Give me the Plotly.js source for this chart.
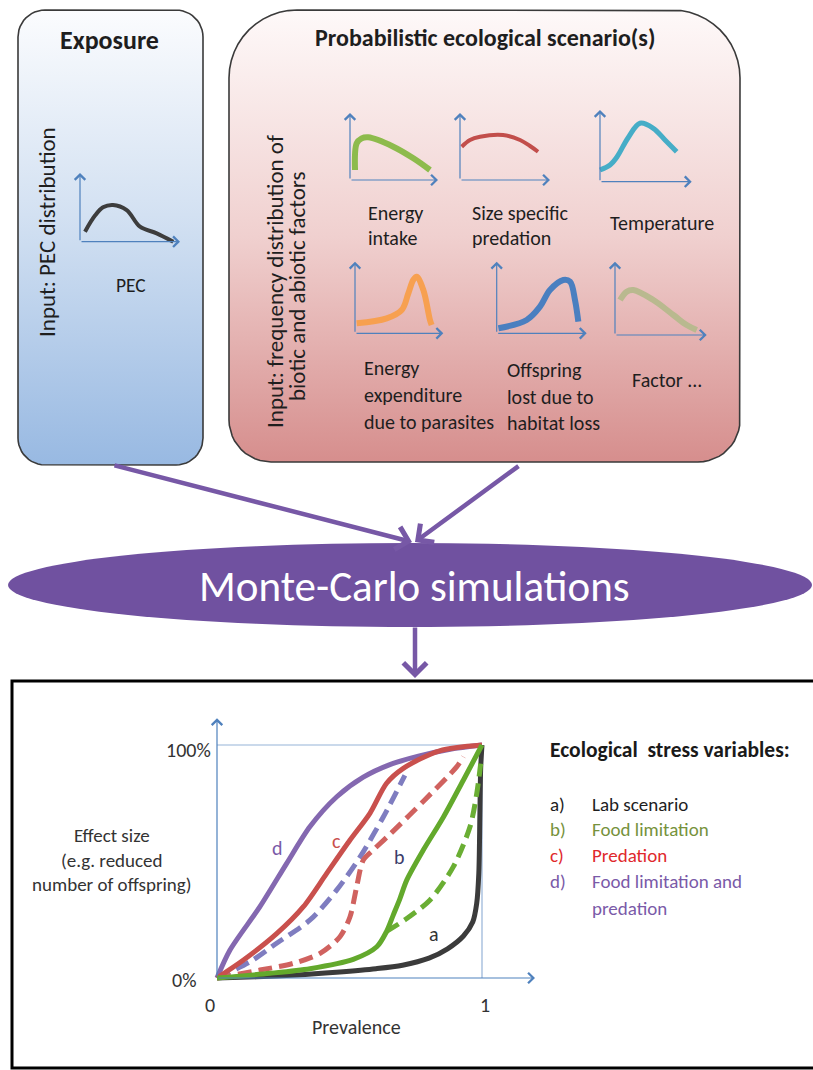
<!DOCTYPE html>
<html><head><meta charset="utf-8">
<script src="https://cdn.plot.ly/plotly-3.0.1.min.js"></script>
<style>html,body{margin:0;padding:0;background:#fff;}#chart{width:813px;height:1070px;}</style>
</head><body><div id="chart"></div>
<script>
// ================= DATA =================
// Main chart: effect size vs prevalence (values 0..1)
const prevA  = [0, 0.15, 0.3, 0.45, 0.6, 0.7, 0.8, 0.87, 0.93, 0.965, 0.98, 0.988, 0.992, 0.995, 1];
const effA   = [0, 0.005, 0.013, 0.025, 0.04, 0.055, 0.085, 0.125, 0.18, 0.24, 0.32, 0.45, 0.7, 0.9, 1];
const prevB  = [0, 0.2, 0.351, 0.514, 0.603, 0.64, 0.665, 0.69, 0.716, 0.779, 0.854, 0.93, 1];
const effB   = [0, 0.02, 0.04, 0.08, 0.134, 0.2, 0.27, 0.34, 0.42, 0.55, 0.69, 0.85, 1];
const prevBd = [0.64, 0.716, 0.804, 0.892, 0.955, 0.98, 0.995];
const effBd  = [0.2, 0.255, 0.335, 0.478, 0.65, 0.79, 0.92];
const prevC  = [0, 0.1, 0.225, 0.326, 0.414, 0.502, 0.577, 0.64, 0.703, 0.84, 1];
const effC   = [0, 0.077, 0.19, 0.306, 0.449, 0.592, 0.707, 0.836, 0.9, 0.975, 1];
const prevCd = [0, 0.162, 0.288, 0.389, 0.464, 0.502, 0.527, 0.552, 0.59, 0.66, 0.78, 0.905, 0.93];
const effCd  = [0, 0.034, 0.063, 0.106, 0.177, 0.263, 0.392, 0.506, 0.55, 0.625, 0.76, 0.907, 0.95];
const prevD  = [0, 0.049, 0.162, 0.263, 0.351, 0.452, 0.552, 0.65, 0.76, 0.88, 1];
const effD   = [0, 0.12, 0.306, 0.492, 0.65, 0.778, 0.862, 0.915, 0.952, 0.982, 1];
const prevDd = [0, 0.125, 0.225, 0.351, 0.452, 0.54, 0.628, 0.709];
const effDd  = [0, 0.07, 0.149, 0.249, 0.378, 0.52, 0.692, 0.87];

const xTickVals = [0, 1];
const xTickText = ['0', '1'];
const yTickVals = [0, 1];
const yTickText = ['0%', '100%'];
const curveLabels = ['a', 'b', 'c', 'd'];
const curveLabelX = [0.82, 0.69, 0.45, 0.23];
const curveLabelY = [0.19, 0.52, 0.59, 0.56];
const legendKeys  = ['a)', 'b)', 'c)', 'd)'];
const legendTexts = ['Lab scenario', 'Food limitation', 'Predation', 'Food limitation and<br>predation'];

// Mini distribution sketches (normalised 0..1)
const pecX  = [0.05, 0.15, 0.23, 0.33, 0.467, 0.6, 0.767, 0.933];
const pecY  = [0.146, 0.38, 0.5, 0.535, 0.46, 0.218, 0.122, 0.0];
const intakeX = [0.057, 0.076, 0.133, 0.208, 0.492, 0.72, 0.909];
const intakeY = [0.149, 0.547, 0.622, 0.637, 0.497, 0.324, 0.149];
const predX = [0.019, 0.111, 0.222, 0.478, 0.667, 0.778, 0.867];
const predY = [0.497, 0.597, 0.646, 0.672, 0.597, 0.507, 0.422];
const tempX = [0, 0.109, 0.185, 0.305, 0.436, 0.581, 0.709, 0.836];
const tempY = [0.163, 0.233, 0.345, 0.61, 0.815, 0.745, 0.582, 0.418];
const paraX = [0.019, 0.359, 0.529, 0.604, 0.66, 0.698, 0.774, 0.849, 0.868];
const paraY = [0.14, 0.209, 0.325, 0.558, 0.745, 0.791, 0.605, 0.186, 0.116];
const offX  = [0.019, 0.333, 0.481, 0.592, 0.74, 0.815, 0.87, 0.907];
const offY  = [0.07, 0.186, 0.372, 0.605, 0.745, 0.721, 0.465, 0.162];
const facX  = [0.055, 0.127, 0.2, 0.418, 0.636, 0.782, 0.891];
const facY  = [0.477, 0.591, 0.614, 0.477, 0.273, 0.136, 0.068];

// ================= LAYOUT HELPERS =================
const W = 813, H = 1070;
const FONT = 'Calibri, Carlito, Lato, sans-serif';
const traces = [], shapes = [], annotations = [];
const layout = {
  width: W, height: H, margin: {l: 0, r: 0, t: 0, b: 0},
  paper_bgcolor: '#ffffff', plot_bgcolor: 'rgba(0,0,0,0)', showlegend: false,
  font: {family: FONT, color: '#1e1e1e'},
  xaxis: {domain: [0, 1], range: [0, W], visible: false, fixedrange: true},
  yaxis: {domain: [0, 1], range: [H, 0], visible: false, fixedrange: true}
};
let axisCount = 1;
function addAxes(x0, x1, yTop, yBot, xr, yr) {
  axisCount++;
  const n = axisCount;
  layout['xaxis' + n] = {domain: [x0 / W, x1 / W], range: xr, visible: false, fixedrange: true, anchor: 'y' + n};
  layout['yaxis' + n] = {domain: [1 - yBot / H, 1 - yTop / H], range: yr, visible: false, fixedrange: true, anchor: 'x' + n};
  return {x: 'x' + n, y: 'y' + n};
}
function arrow(ax, x, y, x0, y0, color, w, size) {
  return {xref: ax.x, yref: ax.y, axref: ax.x, ayref: ax.y, x: x, y: y, ax: x0, ay: y0,
          text: '', showarrow: true, arrowhead: 4, arrowsize: size, arrowwidth: w, arrowcolor: color};
}
function txt(x, y, t, opts) {
  const o = opts || {};
  annotations.push(Object.assign({xref: 'x', yref: 'y', x: x, y: y, text: t, showarrow: false,
    xanchor: 'center', yanchor: 'middle',
    font: {family: FONT, size: o.size || 20, color: o.color || '#1e1e1e'}}, o.extra || {}));
}
function roundRect(x0, y0, x1, y1, rt, rb) {
  const xs = [], ys = [];
  const arc = (cx, cy, r, a0, a1) => {
    for (let i = 0; i <= 12; i++) {
      const a = a0 + (a1 - a0) * i / 12;
      xs.push(cx + r * Math.cos(a)); ys.push(cy + r * Math.sin(a));
    }
  };
  arc(x0 + rt, y0 + rt, rt, Math.PI, 1.5 * Math.PI);
  arc(x1 - rt, y0 + rt, rt, 1.5 * Math.PI, 2 * Math.PI);
  arc(x1 - rb, y1 - rb, rb, 0, 0.5 * Math.PI);
  arc(x0 + rb, y1 - rb, rb, 0.5 * Math.PI, Math.PI);
  xs.push(xs[0]); ys.push(ys[0]);
  return {xs, ys};
}
function box(x0, y0, x1, y1, rt, rb, scale) {
  const p = roundRect(x0, y0, x1, y1, rt, rb);
  traces.push({type: 'scatter', mode: 'lines', x: p.xs, y: p.ys, xaxis: 'x', yaxis: 'y',
    fill: 'toself', fillcolor: scale[scale.length - 1][1],
    fillgradient: {type: 'vertical', start: y0, stop: y1, colorscale: scale},
    line: {color: '#3a3a3a', width: 1.6}, hoverinfo: 'skip'});
}
function mini(ox, oy, xe, yt, xs, ys, color, width) {
  const p = 0.12, sx = xe - ox, sy = oy - yt;
  const ax = addAxes(ox - p * sx, xe + p * sx, yt - p * sy, oy + p * sy, [-p, 1 + p], [-p, 1 + p]);
  traces.push({type: 'scatter', mode: 'lines', x: xs, y: ys, xaxis: ax.x, yaxis: ax.y,
    line: {color: color, width: width, shape: 'spline', smoothing: 1}, hoverinfo: 'skip'});
  annotations.push(arrow(ax, 1, 0, 0, 0, '#4f81bd', 1.2, 1.7));
  annotations.push(arrow(ax, 0, 1, 0, 0, '#4f81bd', 1.2, 1.7));
}

// ================= TOP: boxes =================
box(18, 10, 203, 465, 27, 27, [[0, '#fbfcfe'], [0.45, '#d3e1f2'], [1, '#98b9e2']]);
box(229, 10, 740, 462, 68, 42, [[0, '#fef9f9'], [0.5, '#f0d0cf'], [1, '#d68e8d']]);

txt(109, 40, '<b>Exposure</b>', {size: 26});
txt(485, 37, '<b>Probabilistic ecological scenario(s)</b>', {size: 24});
txt(47, 232, 'Input: PEC distribution', {size: 23, extra: {textangle: -90}});
txt(131, 285, 'PEC', {size: 19.5});
txt(275, 282, 'Input: frequency distribution of', {size: 23, extra: {textangle: -90}});
txt(297, 287, 'biotic and abiotic factors', {size: 23, extra: {textangle: -90}});

mini(80, 241.7, 180, 173, pecX, pecY, '#3d3d3d', 4);
mini(350, 180, 438, 113, intakeX, intakeY, '#8dbb4c', 6);
mini(460, 180, 550, 113, predX, predY, '#c24e4b', 4);
mini(600, 181.7, 691.7, 110, tempX, tempY, '#46adc7', 5);
mini(355, 333.3, 443.3, 261.7, paraX, paraY, '#f7a050', 6);
mini(496.7, 333.3, 586.7, 261.7, offX, offY, '#4a7fc0', 6);
mini(615, 335, 706.7, 261.7, facX, facY, '#b9b98f', 6);

const L = {xanchor: 'left'};
txt(366, 213, 'Energy', {extra: L});
txt(366, 238, 'intake', {extra: L});
txt(470, 213, 'Size specific', {extra: L});
txt(470, 238, 'predation', {extra: L});
txt(662, 223, 'Temperature');
txt(362, 368, 'Energy', {extra: L});
txt(362, 395, 'expenditure', {extra: L});
txt(362, 422, 'due to parasites', {extra: L});
txt(505, 370, 'Offspring', {extra: L});
txt(505, 397, 'lost due to', {extra: L});
txt(505, 423, 'habitat loss', {extra: L});
txt(667, 380, 'Factor ...');

// ================= MIDDLE: Monte-Carlo =================
const mainAx = {x: 'x', y: 'y'};
shapes.push({type: 'circle', xref: 'x', yref: 'y', x0: 8, x1: 812, y0: 543, y1: 627,
  fillcolor: '#7051a0', line: {width: 0}});
annotations.push(arrow(mainAx, 412, 542, 113, 465, '#7758a6', 4.5, 1.0));
annotations.push(arrow(mainAx, 415, 542, 520, 465, '#7758a6', 4.5, 1.0));
annotations.push(arrow(mainAx, 415, 678, 415, 626, '#7758a6', 4.5, 1.0));
txt(414, 586, 'Monte-Carlo simulations', {size: 43, color: '#ffffff'});

// ================= BOTTOM: effect chart =================
shapes.push({type: 'rect', xref: 'x', yref: 'y', x0: 12, x1: 830, y0: 681, y1: 1068,
  line: {color: '#000000', width: 3}, fillcolor: 'rgba(0,0,0,0)'});

const CX0 = 217, CX1 = 482, CY0 = 978, CY1 = 745;
const cxr = [-0.05, 1.22], cyr = [-0.05, 1.13];
const cax = addAxes(CX0 + cxr[0] * (CX1 - CX0), CX0 + cxr[1] * (CX1 - CX0),
                    CY0 - cyr[1] * (CY0 - CY1), CY0 - cyr[0] * (CY0 - CY1), cxr, cyr);

shapes.push({type: 'line', xref: cax.x, yref: cax.y, x0: 0, x1: 1, y0: 1, y1: 1, layer: 'below', line: {color: '#95b3d7', width: 1.2}});
shapes.push({type: 'line', xref: cax.x, yref: cax.y, x0: 1, x1: 1, y0: 0, y1: 1, layer: 'below', line: {color: '#95b3d7', width: 1.2}});
annotations.push(arrow(cax, 1.2, 0, 0, 0, '#4f81bd', 1.2, 1.7));
annotations.push(arrow(cax, 0, 1.115, 0, 0, '#4f81bd', 1.2, 1.7));

function curve(xs, ys, color, dash) {
  traces.push({type: 'scatter', mode: 'lines', x: xs, y: ys, xaxis: cax.x, yaxis: cax.y,
    line: {color: color, width: 5, dash: dash || 'solid', shape: 'spline', smoothing: 0.8}, hoverinfo: 'skip'});
}
curve(prevA, effA, '#3b3b3b');
curve(prevDd, effDd, '#7f7dc0', '14px,7px');
curve(prevCd, effCd, '#d0625f', '14px,7px');
curve(prevD, effD, '#8468b0');
curve(prevC, effC, '#c9504d');
curve(prevBd, effBd, '#6aae33', '14px,7px');
curve(prevB, effB, '#63a92c');

const labelColors = ['#333333', '#3c3c6a', '#c9504d', '#7a5aa8'];
curveLabels.forEach((t, i) => annotations.push({xref: cax.x, yref: cax.y, x: curveLabelX[i], y: curveLabelY[i],
  text: t, showarrow: false, font: {family: FONT, size: 20, color: labelColors[i]}}));

// tick labels (positioned through the chart's own axes)
const tickFont = {family: FONT, size: 20, color: '#333'};
annotations.push({xref: cax.x, yref: cax.y, x: 0, y: yTickVals[1], text: yTickText[1], showarrow: false,
  xanchor: 'right', xshift: -4, yshift: -5, font: tickFont});
annotations.push({xref: cax.x, yref: cax.y, x: 0, y: yTickVals[0], text: yTickText[0], showarrow: false,
  xanchor: 'right', xshift: -19, yshift: -2, font: tickFont});
xTickVals.forEach((v, i) => annotations.push({xref: cax.x, yref: cax.y, x: v, y: 0, text: xTickText[i], showarrow: false,
  xshift: i === 0 ? -7 : 3, yshift: -27, font: tickFont}));
annotations.push({xref: cax.x, yref: cax.y, x: 0.525, y: 0, text: 'Prevalence', showarrow: false,
  yshift: -49, font: tickFont});

// y-axis description (one wrapped text block)
txt(112, 860, 'Effect size<br>(e.g. reduced<br>number of offspring)', {size: 19, color: '#333', extra: {align: 'center'}});

// legend text block
txt(548, 750, '<b>Ecological  stress variables:</b>', {size: 21.5, color: '#1a1a1a', extra: {xanchor: 'left'}});
const legendColors = ['#1e1e1e', '#76923c', '#e0282c', '#7a5aa8'];
const legendY = [804, 829, 855, 881];
legendKeys.forEach((k, i) => {
  txt(548, legendY[i], k, {size: 19, color: legendColors[i], extra: {xanchor: 'left'}});
  const lines = legendTexts[i].split('<br>');
  lines.forEach((ln, j) => txt(590, legendY[i] + j * 27, ln, {size: 19, color: legendColors[i], extra: {xanchor: 'left'}}));
});

layout.shapes = shapes;
layout.annotations = annotations;
Plotly.newPlot('chart', traces, layout, {staticPlot: true, displayModeBar: false});
</script>
</body></html>
